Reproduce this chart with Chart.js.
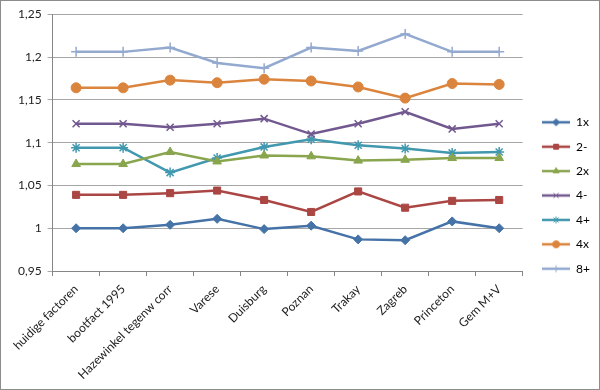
<!DOCTYPE html>
<html>
<head>
<meta charset="utf-8">
<script src="https://cdn.jsdelivr.net/npm/chart.js@4/dist/chart.umd.min.js"></script>
<style>
  html, body { margin: 0; padding: 0; background: #fff; }
  #wrap { width: 598px; height: 388px; border: 1px solid #8c8c8c; }
</style>
</head>
<body>
<div id="wrap"><canvas id="chart" width="598" height="388"></canvas></div>
<script>
// categorieen
const categories = ['huidige factoren', 'bootfact 1995', 'Hazewinkel tegenw corr', 'Varese', 'Duisburg',
  'Poznan', 'Trakay', 'Zagreb', 'Princeton', 'Gem M+V'];

// waarden per serie
const s1x   = [1.000, 1.000, 1.004, 1.011, 0.999, 1.003, 0.987, 0.986, 1.008, 1.000];
const s2min = [1.039, 1.039, 1.041, 1.044, 1.033, 1.019, 1.043, 1.024, 1.032, 1.033];
const s2x   = [1.075, 1.075, 1.089, 1.078, 1.085, 1.084, 1.079, 1.080, 1.082, 1.082];
const s4min = [1.122, 1.122, 1.118, 1.122, 1.128, 1.110, 1.122, 1.136, 1.116, 1.122];
const s4plus = [1.094, 1.094, 1.065, 1.082, 1.095, 1.104, 1.097, 1.093, 1.088, 1.089];
const s4x   = [1.164, 1.164, 1.173, 1.170, 1.174, 1.172, 1.165, 1.152, 1.169, 1.168];
const s8plus = [1.206, 1.206, 1.211, 1.193, 1.187, 1.211, 1.207, 1.227, 1.206, 1.206];

// y-as
const yTicks = [0.95, 1, 1.05, 1.1, 1.15, 1.2, 1.25];

const series = [
  { label: '1x', data: s1x, color: '#4572A7', style: 'rectRot', r: 4.5 },
  { label: '2-', data: s2min, color: '#AA4643', style: 'rect', r: 5 },
  { label: '2x', data: s2x, color: '#89A54E', style: 'triangle', r: 5 },
  { label: '4-', data: s4min, color: '#71588F', style: 'crossRot', r: 5 },
  { label: '4+', data: s4plus, color: '#4198AF', style: 'star', r: 5 },
  { label: '4x', data: s4x, color: '#DB843D', style: 'circle', r: 5 },
  { label: '8+', data: s8plus, color: '#93A9CF', style: 'cross', r: 5 }
];

// kleine afbeelding voor de legende: lijn met marker
function legendIcon(s) {
  const c = document.createElement('canvas');
  c.width = 28; c.height = 12;
  const ctx = c.getContext('2d');
  ctx.strokeStyle = s.color;
  ctx.fillStyle = s.color;
  ctx.lineWidth = 2.5;
  ctx.beginPath();
  ctx.moveTo(0, 6); ctx.lineTo(28, 6);
  ctx.stroke();
  ctx.lineWidth = 1;
  Chart.helpers.drawPoint(ctx, { pointStyle: s.style, radius: 3.5, rotation: 0, borderWidth: 1 }, 14, 6);
  return c;
}

// legende iets verschuiven
const legendShift = {
  id: 'legendShift',
  afterLayout(chart) {
    chart.legend.left += 7;
    chart.legend.right += 7;
    chart.legend.top -= 3;
    chart.legend.bottom -= 3;
  }
};

Chart.defaults.font.family = 'Lato, "Open Sans", sans-serif';
Chart.defaults.font.size = 12;
Chart.defaults.color = '#222';

new Chart(document.getElementById('chart'), {
  type: 'line',
  data: {
    labels: categories,
    datasets: series.map(s => ({
      label: s.label,
      data: s.data,
      borderColor: s.color,
      backgroundColor: s.color,
      borderWidth: 2.5,
      pointStyle: s.style,
      pointRadius: s.r,
      pointBorderWidth: (s.style === 'crossRot' || s.style === 'star' || s.style === 'cross') ? 1.5 : 1,
      tension: 0,
      icon: legendIcon(s)
    }))
  },
  plugins: [legendShift],
  options: {
    responsive: false,
    animation: false,
    layout: { padding: { left: 11, top: 8, right: 6, bottom: 1 } },
    plugins: {
      tooltip: { enabled: false },
      legend: {
        position: 'right',
        labels: {
          usePointStyle: true,
          pointStyleWidth: 28,
          padding: 12.4,
          font: { size: 12 },
          generateLabels: chart => chart.data.datasets.map((ds, i) => ({
            text: ds.label,
            pointStyle: ds.icon,
            fillStyle: ds.backgroundColor,
            strokeStyle: ds.borderColor,
            lineWidth: 0,
            datasetIndex: i
          }))
        }
      }
    },
    scales: {
      x: {
        offset: true,
        grid: { display: true, offset: true, drawOnChartArea: false, drawTicks: true, tickLength: 5, color: '#868686' },
        border: { color: '#868686' },
        ticks: { minRotation: 45, maxRotation: 45, autoSkip: false, padding: 6, font: { size: 12 } }
      },
      y: {
        min: yTicks[0],
        max: yTicks[yTicks.length - 1],
        afterBuildTicks: axis => { axis.ticks = yTicks.map(v => ({ value: v })); },
        grid: { color: '#a6a6a6', tickLength: 5 },
        border: { color: '#868686' },
        ticks: {
          padding: 6,
          callback: v => String(Number(v.toFixed(2))).replace('.', ',')
        }
      }
    }
  }
});
</script>
</body>
</html>
